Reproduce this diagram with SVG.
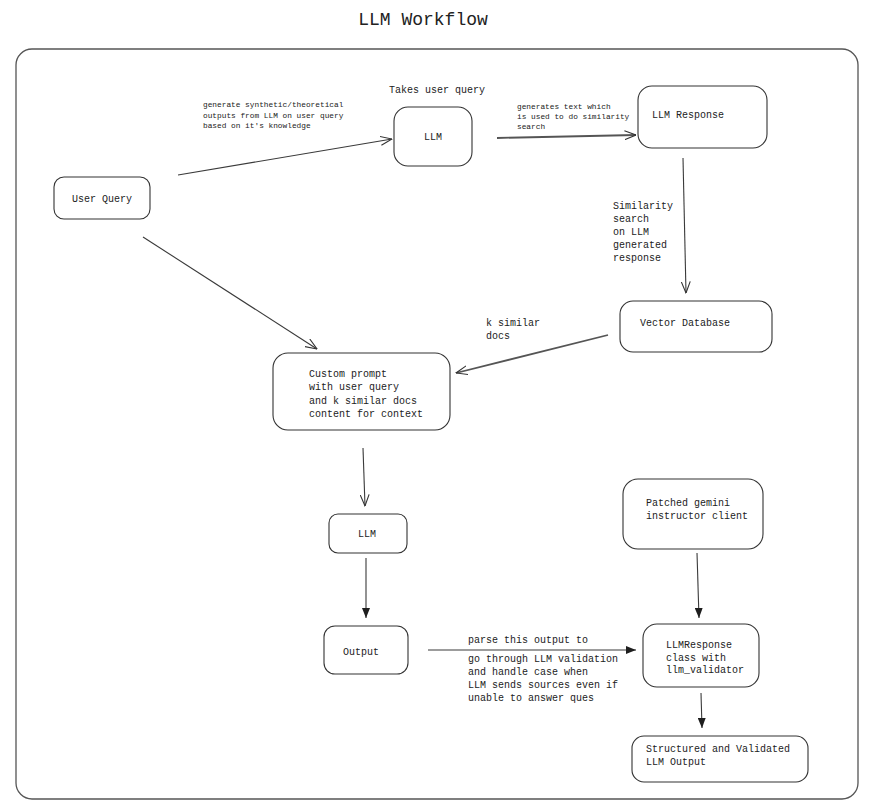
<svg xmlns="http://www.w3.org/2000/svg" width="873" height="808" viewBox="0 0 873 808">
<defs>
<style>
.node rect{fill:#ffffff;stroke:#333333;stroke-width:1.1}
text{font-family:"Liberation Mono","DejaVu Sans Mono",monospace;fill:#222222}
.t{font-size:10px}
.s{font-size:7.8px}
.c{stroke:#3a3a3a;stroke-width:1.1;fill:none}
.thick{stroke:#555555;stroke-width:1.8}
</style>
<marker id="open" viewBox="0 0 12 10" refX="11.5" refY="5" markerWidth="12" markerHeight="10" markerUnits="userSpaceOnUse" orient="auto">
<path d="M0,0.5 L11.5,5 L0,9.5" fill="none" stroke="#333333" stroke-width="1.1"/>
</marker>
<marker id="fill" viewBox="0 0 10 8" refX="10" refY="4" markerWidth="10" markerHeight="8" markerUnits="userSpaceOnUse" orient="auto">
<path d="M0,0 L10,4 L0,8 z" fill="#1e1e1e"/>
</marker>
</defs>
<rect width="873" height="808" fill="#ffffff"/>
<text x="423" y="25" text-anchor="middle" style="font-size:18px">LLM Workflow</text>
<rect id="frame" x="16" y="49" width="842" height="750" rx="16" fill="none" stroke="#555555" stroke-width="1.3"/>

<g id="connectors">
<line class="c" x1="178" y1="175" x2="392" y2="139" marker-end="url(#open)"/>
<line class="c thick" x1="497" y1="138" x2="636" y2="135" marker-end="url(#open)"/>
<line class="c" x1="683" y1="158" x2="686" y2="293" marker-end="url(#open)"/>
<line class="c thick" x1="608" y1="335" x2="456" y2="373" marker-end="url(#open)"/>
<line class="c" x1="143" y1="237" x2="317" y2="349" marker-end="url(#open)"/>
<line class="c" x1="363" y1="448" x2="365" y2="506" marker-end="url(#open)"/>
<line class="c" x1="366" y1="558" x2="366" y2="618" marker-end="url(#fill)"/>
<line class="c" x1="428" y1="650" x2="636" y2="650" marker-end="url(#fill)"/>
<line class="c" x1="697" y1="553" x2="699" y2="618" marker-end="url(#fill)"/>
<line class="c" x1="701" y1="693" x2="702" y2="728" marker-end="url(#fill)"/>
<text class="s" x="203" y="107">generate synthetic/theoretical</text>
<text class="s" x="203" y="118">outputs from LLM on user query</text>
<text class="s" x="203" y="128">based on it's knowledge</text>
<text class="s" x="517" y="109">generates text which</text>
<text class="s" x="517" y="119">is used to do similarity</text>
<text class="s" x="517" y="129">search</text>
<text class="t" x="613" y="209">Similarity</text>
<text class="t" x="613" y="222">search</text>
<text class="t" x="613" y="235">on LLM</text>
<text class="t" x="613" y="248">generated</text>
<text class="t" x="613" y="261">response</text>
<text class="t" x="486" y="326">k similar</text>
<text class="t" x="486" y="339">docs</text>
<text class="t" x="468" y="643">parse this output to</text>
<text class="t" x="468" y="662">go through LLM validation</text>
<text class="t" x="468" y="675">and handle case when</text>
<text class="t" x="468" y="688">LLM sends sources even if</text>
<text class="t" x="468" y="701">unable to answer ques</text>
</g>

<g id="user-query" class="node">
<rect x="54" y="177" width="96" height="42" rx="10"/>
<text class="t" x="72" y="202">User Query</text>
</g>

<g id="llm-1" class="node">
<text class="t" x="389" y="93">Takes user query</text>
<rect x="394" y="107" width="78" height="59" rx="14"/>
<text class="t" x="433" y="140" text-anchor="middle">LLM</text>
</g>

<g id="llm-response" class="node">
<rect x="638" y="86" width="129" height="62" rx="14"/>
<text class="t" x="652" y="118">LLM Response</text>
</g>

<g id="vector-database" class="node">
<rect x="620" y="301" width="152" height="51" rx="13"/>
<text class="t" x="640" y="326">Vector Database</text>
</g>

<g id="custom-prompt" class="node">
<rect x="273" y="353" width="177" height="77" rx="15"/>
<text class="t" x="309" y="377">Custom prompt</text>
<text class="t" x="309" y="390">with user query</text>
<text class="t" x="309" y="404">and k similar docs</text>
<text class="t" x="309" y="417">content for context</text>
</g>

<g id="llm-2" class="node">
<rect x="329" y="514" width="78" height="39" rx="9"/>
<text class="t" x="367" y="537" text-anchor="middle">LLM</text>
</g>

<g id="output" class="node">
<rect x="324" y="626" width="84" height="48" rx="11"/>
<text class="t" x="343" y="655">Output</text>
</g>

<g id="patched-gemini" class="node">
<rect x="623" y="479" width="140" height="70" rx="15"/>
<text class="t" x="646" y="506">Patched gemini</text>
<text class="t" x="646" y="519">instructor client</text>
</g>

<g id="llm-response-class" class="node">
<rect x="643" y="624" width="116" height="63" rx="14"/>
<text class="t" x="666" y="648">LLMResponse</text>
<text class="t" x="666" y="661">class with</text>
<text class="t" x="666" y="673">llm_validator</text>
</g>

<g id="structured-output" class="node">
<rect x="632" y="736" width="176" height="46" rx="12"/>
<text class="t" x="646" y="752">Structured and Validated</text>
<text class="t" x="646" y="765">LLM Output</text>
</g>
</svg>
